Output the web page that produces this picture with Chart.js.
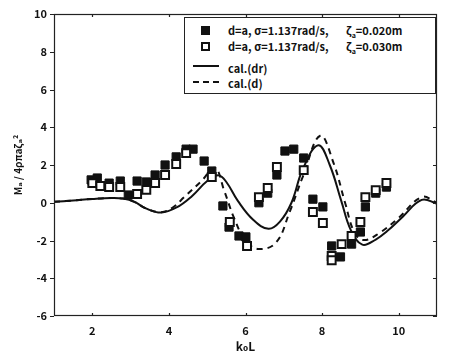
<!DOCTYPE html>
<html>
<head>
<meta charset="utf-8">
<script src="https://cdn.jsdelivr.net/npm/chart.js@4"></script>
<style>
  html,body{margin:0;padding:0;background:#fff;}
  #wrap{position:relative;width:450px;height:360px;}
  #legend{position:absolute;left:184px;top:17px;width:252px;height:77px;border:1px solid #222;box-sizing:border-box;background:#fff;
    font-family:"Noto Sans CJK JP","DejaVu Sans",sans-serif;font-weight:700;font-size:11px;color:#111;}
  #legend .t{position:absolute;white-space:nowrap;line-height:12px;}
  #legend .sq{position:absolute;width:9px;height:9px;box-sizing:border-box;}
  #legend .ln{position:absolute;height:0;width:26px;}
  sub{font-size:7px;vertical-align:-3px;}
</style>
</head>
<body>
<div id="wrap">
<canvas id="c" width="450" height="360"></canvas>
<div id="legend">
  <div class="sq" style="left:16px;top:8px;background:#111;"></div>
  <div class="t" style="left:43px;top:6px;">d=a, σ=1.137rad/s,</div>
  <div class="t" style="left:161px;top:6px;">ζ<sub>a</sub>=0.020m</div>
  <div class="sq" style="left:16px;top:24px;border:2px solid #111;background:#fff;"></div>
  <div class="t" style="left:43px;top:22px;">d=a, σ=1.137rad/s,</div>
  <div class="t" style="left:161px;top:22px;">ζ<sub>a</sub>=0.030m</div>
  <div class="ln" style="left:8px;top:47px;border-top:2px solid #111;"></div>
  <div class="t" style="left:43px;top:44px;">cal.(dr)</div>
  <div class="ln" style="left:8px;top:63px;border-top:2px dashed #111;"></div>
  <div class="t" style="left:43px;top:59px;">cal.(d)</div>
</div>
</div>
<script>
// ---- data ----
const filledX = [1.97,2.13,2.44,2.73,2.94,3.17,3.41,3.64,3.90,4.19,4.45,4.63,4.92,5.12,5.41,5.57,5.83,6.01,6.35,6.58,6.82,7.03,7.26,7.52,7.76,8.02,8.25,8.48,8.77,9.00,9.13,9.40,9.68];
const filledY = [1.21,1.31,1.04,1.15,0.41,1.15,1.10,1.47,2.00,2.43,2.84,2.84,2.21,1.68,-0.17,-1.29,-1.76,-1.81,0.00,0.51,1.47,2.74,2.84,2.37,0.19,-0.22,-2.29,-2.87,-2.19,-1.55,-0.22,0.51,0.83];
const openX = [2.00,2.21,2.44,2.73,3.17,3.41,3.64,3.90,4.19,4.45,5.12,5.59,6.04,6.35,6.58,6.82,7.52,7.76,8.02,8.25,8.25,8.51,8.77,9.00,9.13,9.40,9.68];
const openY = [1.04,0.89,0.83,0.83,0.46,0.68,1.05,1.47,2.05,2.63,1.36,-1.02,-2.29,0.30,0.78,1.89,1.73,-0.49,-1.07,-2.82,-3.05,-2.19,-1.76,-1.02,0.30,0.67,1.05];
const drX = [1.0,1.5,2.0,2.5,2.8,3.1,3.4,3.8,4.2,4.6,5.0,5.3,5.5,5.8,6.2,6.6,6.9,7.2,7.5,7.9,8.2,8.5,8.75,9.05,9.4,9.7,10.1,10.6,11.0];
const drY = [0.05,0.12,0.2,0.25,0.22,0.05,-0.3,-0.52,-0.25,0.35,1.15,1.45,1.1,0.1,-0.9,-1.38,-1.0,0.0,1.8,3.05,2.0,0.1,-1.45,-2.22,-1.95,-1.5,-0.75,0.15,-0.05];
const dX = [1.0,1.5,2.0,2.5,2.8,3.1,3.4,3.8,4.1,4.4,4.85,5.2,5.45,5.7,6.0,6.35,6.8,7.15,7.5,7.95,8.3,8.6,8.85,9.1,9.5,10.0,10.6,11.0];
const dY = [0.05,0.12,0.2,0.25,0.22,0.05,-0.3,-0.5,-0.25,0.3,1.15,1.85,0.6,-0.8,-2.0,-2.45,-2.1,-0.5,1.4,3.55,2.1,0.0,-1.6,-1.98,-1.6,-0.8,0.3,0.0];
const xTicks = [2,4,6,8,10];
const yTicks = [-6,-4,-2,0,2,4,6,8,10];
const xTitle = "k₀L";
const yTitle = "Mₐ / 4ρπaζₐ²";

const pts = (xs, ys) => xs.map((x, i) => ({x: x, y: ys[i]}));
const FONT = '"Noto Sans CJK JP", "DejaVu Sans", sans-serif';

const framePlugin = {
  id: 'frame',
  afterDraw(chart) {
    const {ctx, chartArea: a, scales} = chart;
    ctx.save();
    ctx.strokeStyle = '#222';
    ctx.lineWidth = 1.2;
    ctx.strokeRect(a.left + 0.5, a.top + 0.5, a.right - a.left - 1, a.bottom - a.top - 1);
    ctx.beginPath();
    yTicks.forEach(v => {
      const y = Math.round(scales.y.getPixelForValue(v)) + 0.5;
      ctx.moveTo(a.left - 4, y); ctx.lineTo(a.left, y);
      ctx.moveTo(a.right - 4, y); ctx.lineTo(a.right, y);
    });
    xTicks.forEach(v => {
      const x = Math.round(scales.x.getPixelForValue(v)) + 0.5;
      ctx.moveTo(x, a.bottom - 3); ctx.lineTo(x, a.bottom);
      ctx.moveTo(x, a.top); ctx.lineTo(x, a.top + 3);
    });
    ctx.stroke();
    ctx.restore();
  }
};

new Chart(document.getElementById('c'), {
  type: 'scatter',
  data: {
    datasets: [
      {label: 'open', data: pts(openX, openY), pointStyle: 'rect', pointRadius: 5.6, borderColor: '#111', backgroundColor: '#fff', borderWidth: 2, showLine: false},
      {label: 'filled', data: pts(filledX, filledY), pointStyle: 'rect', pointRadius: 5.8, borderColor: '#111', backgroundColor: '#111', borderWidth: 1, showLine: false},
      {label: 'cal.(dr)', data: pts(drX, drY), showLine: true, pointRadius: 0, borderColor: '#111', borderWidth: 2, tension: 0.4},
      {label: 'cal.(d)', data: pts(dX, dY), showLine: true, pointRadius: 0, borderColor: '#111', borderWidth: 2, borderDash: [6, 5], tension: 0.4}
    ]
  },
  options: {
    responsive: false,
    animation: false,
    layout: {padding: {top: 14, right: 13, left: 0, bottom: 0}},
    plugins: {legend: {display: false}, tooltip: {enabled: false}},
    scales: {
      x: {
        type: 'linear', min: 1, max: 11,
        afterBuildTicks: s => { s.ticks = xTicks.map(v => ({value: v})); },
        afterFit: s => { s.height = 44; },
        grid: {display: false, drawTicks: false},
        border: {display: false},
        ticks: {color: '#111', padding: 8, font: {family: FONT, size: 11, weight: 'bold'}},
        title: {display: true, text: xTitle, color: '#111', padding: {top: 4, bottom: 6}, font: {family: FONT, size: 12, weight: 'bold'}}
      },
      y: {
        type: 'linear', min: -6, max: 10,
        afterBuildTicks: s => { s.ticks = yTicks.map(v => ({value: v})); },
        afterFit: s => { s.width = 54; },
        grid: {display: false, drawTicks: false},
        border: {display: false},
        ticks: {color: '#111', padding: 7, font: {family: FONT, size: 11, weight: 'bold'}},
        title: {display: true, text: yTitle, color: '#111', padding: {top: 12, bottom: 0}, font: {family: FONT, size: 10, weight: 'bold'}}
      }
    }
  },
  plugins: [framePlugin]
});
</script>
</body>
</html>
